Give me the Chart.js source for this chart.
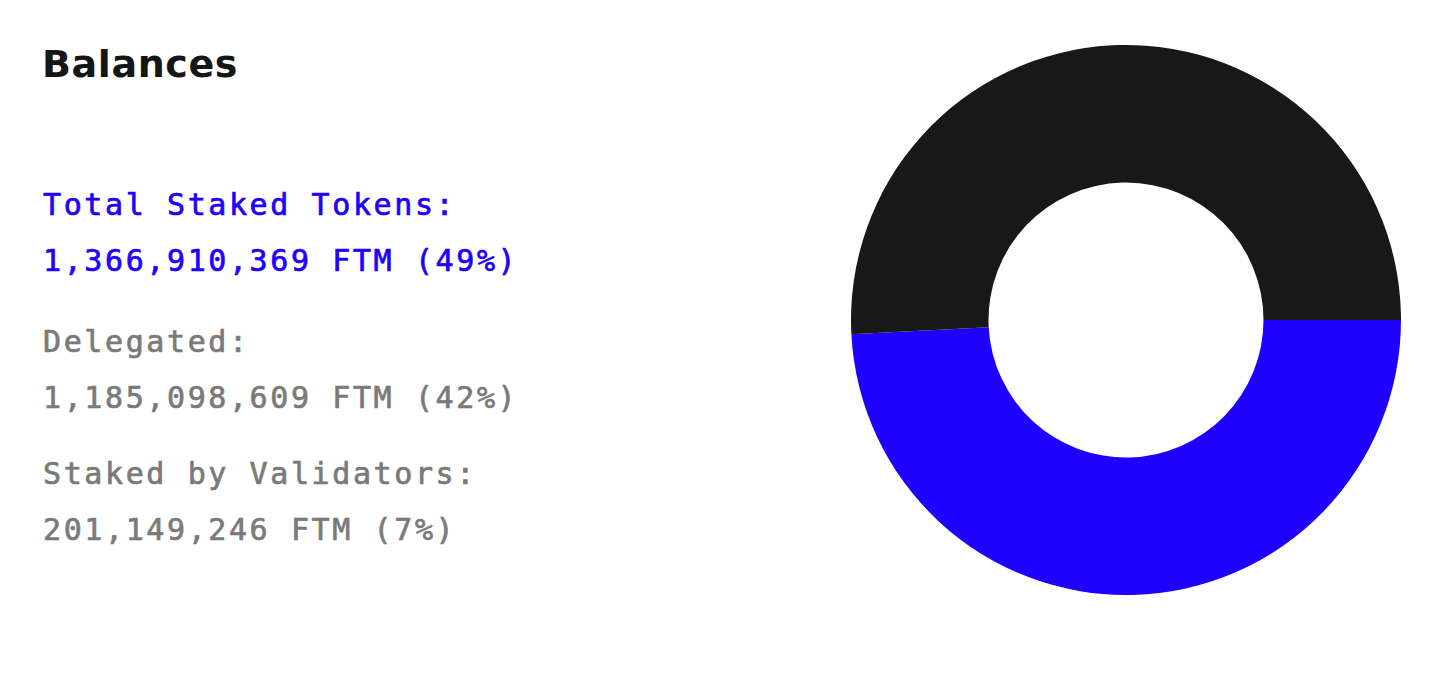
<!DOCTYPE html>
<html>
<head>
<meta charset="utf-8">
<script src="https://cdn.jsdelivr.net/npm/chart.js@4/dist/chart.umd.min.js"></script>
<style>
    body { margin: 0; background: #fff; width: 1440px; height: 678px; overflow: hidden; position: relative; }
    h2 { position: absolute; left: 42px; top: 39px; margin: 0; font-family: "DejaVu Sans", sans-serif; font-weight: bold; font-size: 38px; line-height: 50px; letter-spacing: 0.6px; color: #161616; }
    .stat { position: absolute; left: 43px; margin: 0; font-family: "DejaVu Sans Mono", monospace; font-size: 30px; line-height: 55.5px; letter-spacing: 2.6px; color: #7a7a7a; -webkit-text-stroke: 0.7px #7a7a7a; white-space: nowrap; }
    .stat.total { color: #1e00ff; -webkit-text-stroke: 0.7px #1e00ff; }
    #chartBox { position: absolute; left: 851px; top: 45px; width: 550px; height: 550px; }
</style>
</head>
<body>
<h2>Balances</h2>
<div class="stat total" style="top:177px">Total Staked Tokens:<br>1,366,910,369 FTM (49%)</div>
<div class="stat" style="top:314px">Delegated:<br>1,185,098,609 FTM (42%)</div>
<div class="stat" style="top:446px">Staked by Validators:<br>201,149,246 FTM (7%)</div>
<div id="chartBox"><canvas id="balanceChart"></canvas></div>
<script>
// 잔액 도넛 차트
var labels = ['Total Staked Tokens', 'Not staked'];
var balances = [1366910369, 1413000000];
var colors = ['#1e00ff', '#181818'];

var balanceChart;
document.addEventListener("DOMContentLoaded", function() {
    var ctx = document.getElementById('balanceChart').getContext('2d');
    balanceChart = new Chart(ctx, {
        type: 'doughnut',
        data: {
            labels: labels,
            datasets: [
                {
                    data: balances,
                    backgroundColor: colors,
                    borderWidth: 0
                }
            ]
        },
        options: {
            responsive: true,
            maintainAspectRatio: false,
            animation: false,
            rotation: 90,
            cutout: '50%',
            layout: { padding: 0 },
            plugins: {
                legend: { display: false },
                tooltip: { enabled: false }
            }
        }
    });
});
</script>
</body>
</html>
